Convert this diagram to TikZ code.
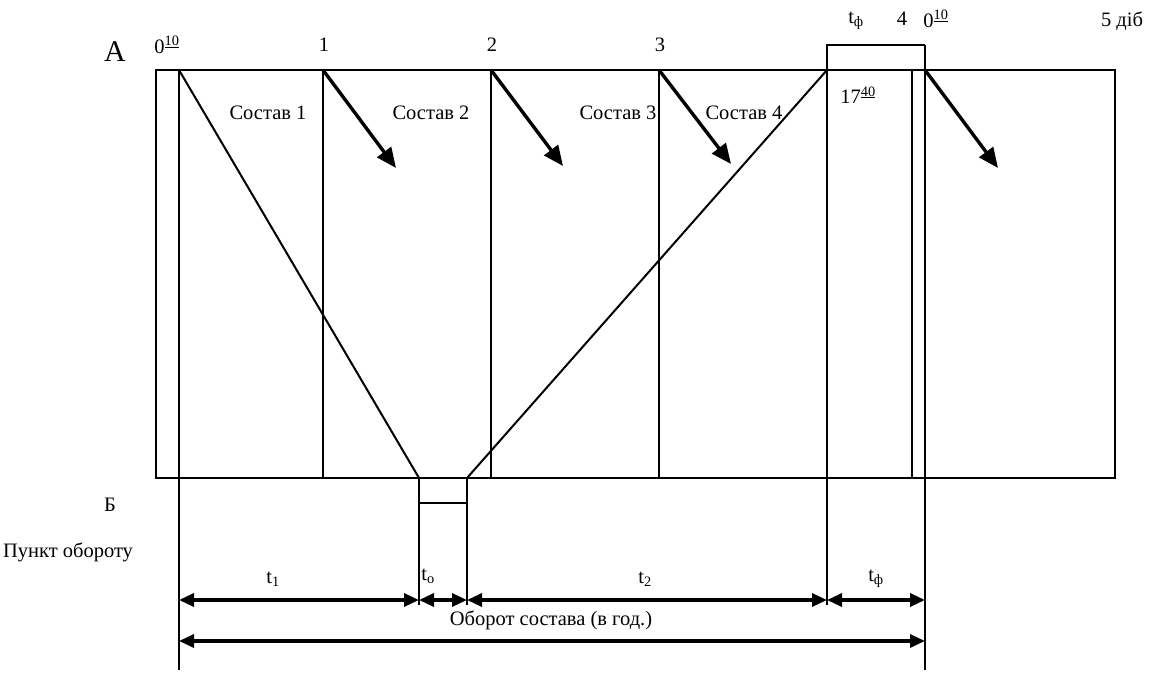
\documentclass[tikz,border=0pt]{standalone}
\usepackage{fontspec}
\setmainfont{Liberation Serif}
\usetikzlibrary{arrows.meta}
\begin{document}
\begin{tikzpicture}[x=1pt,y=-1pt,
  ln/.style={line width=2pt},
  mv/.style={line width=3.4pt,-{Triangle[length=20pt,width=17pt]}},
  dim/.style={line width=3.2pt,{Triangle[length=15pt,width=13pt]}-{Triangle[length=15pt,width=13pt]}},
  lbl/.style={inner sep=0pt,font=\fontsize{20.5}{24}\selectfont}]
\useasboundingbox (0,0) rectangle (1159,677);
% key coordinates
\coordinate (TL) at (156,70);
\coordinate (BR) at (1115,478);
\foreach \n/\x in {a/179,b/323,c/491,d/659,e/827,f/912,g/925}{
  \coordinate (\n t) at (\x,70);
  \coordinate (\n b) at (\x,478);
}
\coordinate (p1t) at (419,478);
\coordinate (p2t) at (467,478);
\coordinate (p1m) at (419,503);
\coordinate (p2m) at (467,503);
\coordinate (p1b) at (419,605);
\coordinate (p2b) at (467,605);
\coordinate (ebot) at (827,605);
\coordinate (alow) at (179,670);
\coordinate (glow) at (925,670);
\coordinate (ehi) at (827,45);
\coordinate (ghi) at (925,45);
% frame
\draw[ln] (TL) rectangle (BR);
% verticals
\draw[ln] (at) -- (alow);
\draw[ln] (bt) -- (bb);
\draw[ln] (ct) -- (cb);
\draw[ln] (dt) -- (db);
\draw[ln] (et) -- (ebot);
\draw[ln] (ft) -- (fb);
\draw[ln] (ghi) -- (glow);
\draw[ln] (et) -- (ehi) -- (ghi);
% turnaround box
\draw[ln] (p1t) -- (p1b);
\draw[ln] (p2t) -- (p2b);
\draw[ln] (p1m) -- (p2m);
% train paths
\draw[ln] (at) -- (p1t);
\draw[ln] (p2t) -- (et);
% departure arrows
\coordinate (m1) at (396,168);
\coordinate (m2) at (563,166);
\coordinate (m3) at (731,164);
\coordinate (m4) at (998,168);
\draw[mv] (bt) -- (m1);
\draw[mv] (ct) -- (m2);
\draw[mv] (dt) -- (m3);
\draw[mv] (gt) -- (m4);
% dimension lines
\coordinate (d1) at (179,600);
\coordinate (d2) at (419,600);
\coordinate (d3) at (467,600);
\coordinate (d4) at (827,600);
\coordinate (d5) at (925,600);
\coordinate (o1) at (179,641);
\coordinate (o2) at (925,641);
\draw[dim] (d1) -- (d2);
\draw[dim] (d2) -- (d3);
\draw[dim] (d3) -- (d4);
\draw[dim] (d4) -- (d5);
\draw[dim] (o1) -- (o2);
% labels
\node[lbl,font=\fontsize{30}{34}\selectfont] (lA) at (115,52) {А};
\node[lbl] (l0) at (167,45) {0\textsuperscript{\underline{10}}};
\node[lbl] (l1) at (324,45) {1};
\node[lbl] (l2) at (492,45) {2};
\node[lbl] (l3) at (660,45) {3};
\node[lbl] (ltf) at (856,21) {t\textsubscript{ф}};
\node[lbl] (l4) at (902,19) {4};
\node[lbl] (l0b) at (936,19) {0\textsuperscript{\underline{10}}};
\node[lbl] (l5) at (1122,21) {5 діб};
\node[lbl] (l17) at (858,95) {17\textsuperscript{\underline{40}}};
\node[lbl] (s1) at (268,113) {Состав 1};
\node[lbl] (s2) at (431,113) {Состав 2};
\node[lbl] (s3) at (618,113) {Состав 3};
\node[lbl] (s4) at (744,113) {Состав 4};
\node[lbl] (lB) at (110,505) {Б};
\node[lbl] (lP) at (68,552) {Пункт обороту};
\node[lbl] (t1) at (273,579) {t\textsubscript{1}};
\node[lbl] (to) at (428,576) {t\textsubscript{о}};
\node[lbl] (t2) at (645,579) {t\textsubscript{2}};
\node[lbl] (tf) at (876,579) {t\textsubscript{ф}};
\node[lbl] (ob) at (551,620) {Оборот состава (в год.)};
\end{tikzpicture}
\end{document}
